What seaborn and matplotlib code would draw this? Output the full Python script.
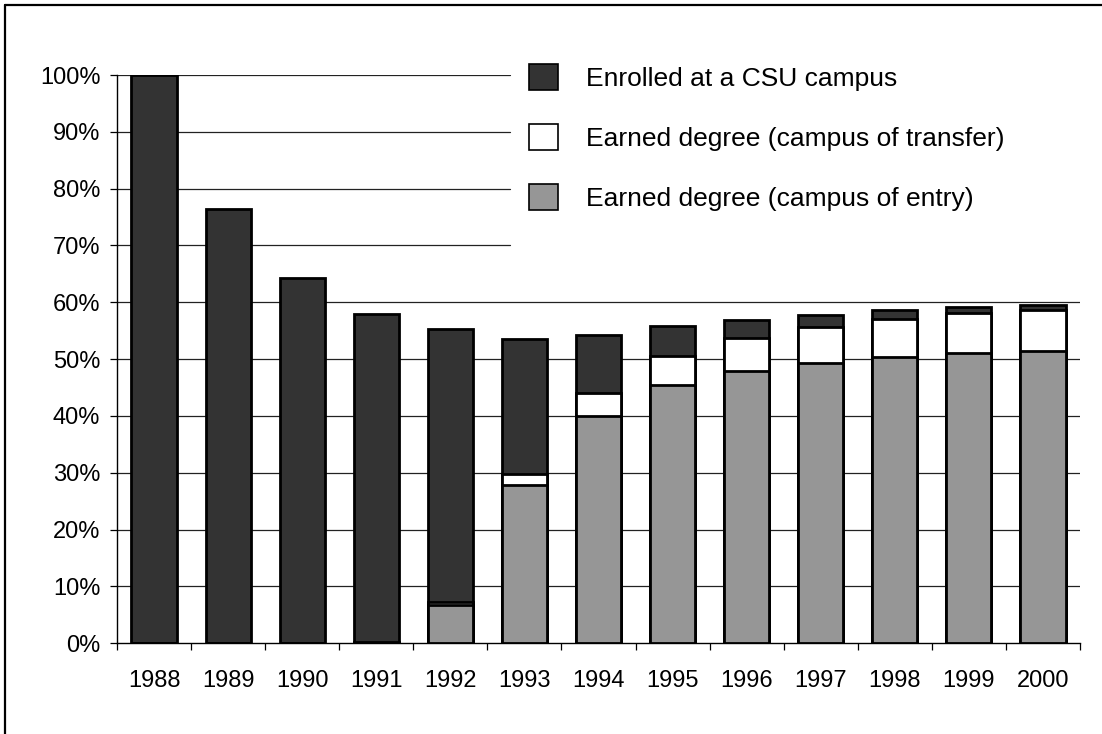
import matplotlib
matplotlib.use("Agg")
import matplotlib.pyplot as plt
from matplotlib.patches import Patch
from matplotlib.lines import Line2D
from matplotlib.ticker import FixedLocator, PercentFormatter
import seaborn as sns
import pandas as pd
import numpy as np

years = ["1988", "1989", "1990", "1991", "1992", "1993", "1994",
         "1995", "1996", "1997", "1998", "1999", "2000"]
degree_entry = [0.0, 0.0, 0.0, 0.1, 6.8, 27.8, 40.0, 45.5, 48.0, 49.3, 50.3, 51.1, 51.5]
degree_transfer = [0.0, 0.0, 0.0, 0.1, 0.4, 2.0, 4.1, 5.1, 5.8, 6.3, 6.7, 7.0, 7.2]
enrolled = [100.0, 76.4, 64.2, 57.7, 48.1, 23.7, 10.2, 5.2, 3.1, 2.2, 1.6, 1.1, 0.9]

labels = ["Enrolled at a CSU campus",
          "Earned degree (campus of transfer)",
          "Earned degree (campus of entry)"]
colors = {"enrolled": "#333333", "transfer": "#ffffff", "entry": "#969696"}

df = pd.DataFrame({"year": years, "entry": degree_entry,
                   "transfer": degree_transfer, "enrolled": enrolled})
df["lvl_transfer"] = df["entry"] + df["transfer"]
df["lvl_total"] = df["lvl_transfer"] + df["enrolled"]

sns.set_theme(style="white")
plt.rcParams["font.family"] = ["Liberation Sans", "DejaVu Sans"]

fig = plt.figure(figsize=(11.02, 7.34), dpi=100)
ax = fig.add_axes([117 / 1102, 1 - 643.3 / 734, 963 / 1102, 568.3 / 734])

edge_lw = 2.0
for col, key in [("lvl_total", "enrolled"), ("lvl_transfer", "transfer"), ("entry", "entry")]:
    sns.barplot(data=df, x="year", y=col, order=years, color=colors[key],
                saturation=1, width=0.61, edgecolor="black", linewidth=edge_lw,
                ax=ax, zorder=3)

ax.set_ylim(0, 100)
ax.set_xlim(-0.5, len(years) - 0.5)

# gridlines (legend area hides upper ones on the right)
for v in range(10, 101, 10):
    xmax = 1.0 if v < 65 else (510 - 117) / 963
    ax.axhline(v, xmin=0, xmax=xmax, color="#222222", linewidth=0.9, zorder=1)

ax.set_xlabel("")
ax.set_ylabel("")
for s in ["top", "right"]:
    ax.spines[s].set_visible(False)
for s in ["left", "bottom"]:
    ax.spines[s].set_color("black")
    ax.spines[s].set_linewidth(1.0)

ax.yaxis.set_major_locator(FixedLocator(range(0, 101, 10)))
ax.yaxis.set_major_formatter(PercentFormatter(decimals=0))
ax.tick_params(axis="y", which="major", left=True, length=5, width=0.9,
               color="black", pad=7, labelsize=17, labelcolor="black")
ax.xaxis.set_minor_locator(FixedLocator(np.arange(-0.5, len(years), 1.0)))
ax.tick_params(axis="x", which="major", bottom=True, length=0, pad=19.5,
               labelsize=17, labelcolor="black")
ax.tick_params(axis="x", which="minor", bottom=True, length=5, width=0.9, color="black")

handles = [Patch(facecolor=colors["enrolled"], edgecolor="black", linewidth=1.2),
           Patch(facecolor=colors["transfer"], edgecolor="black", linewidth=1.2),
           Patch(facecolor=colors["entry"], edgecolor="black", linewidth=1.2)]
leg = ax.legend(handles, labels, loc="upper left",
                bbox_to_anchor=(529 / 1102, 1 - 64 / 734), bbox_transform=fig.transFigure,
                frameon=False, fontsize=19, borderpad=0, borderaxespad=0,
                handlelength=1.1, handleheight=1.15, handletextpad=1.05,
                labelspacing=1.25)
for t in leg.get_texts():
    t.set_color("black")

# figure border (left and top only visible)
fig.add_artist(Line2D([5 / 1102, 5 / 1102], [0, 1 - 5 / 734], transform=fig.transFigure,
                      color="black", linewidth=1.6))
fig.add_artist(Line2D([5 / 1102, 1], [1 - 5 / 734, 1 - 5 / 734], transform=fig.transFigure,
                      color="black", linewidth=1.6))

fig.savefig("out.png", dpi=100, facecolor="white")
